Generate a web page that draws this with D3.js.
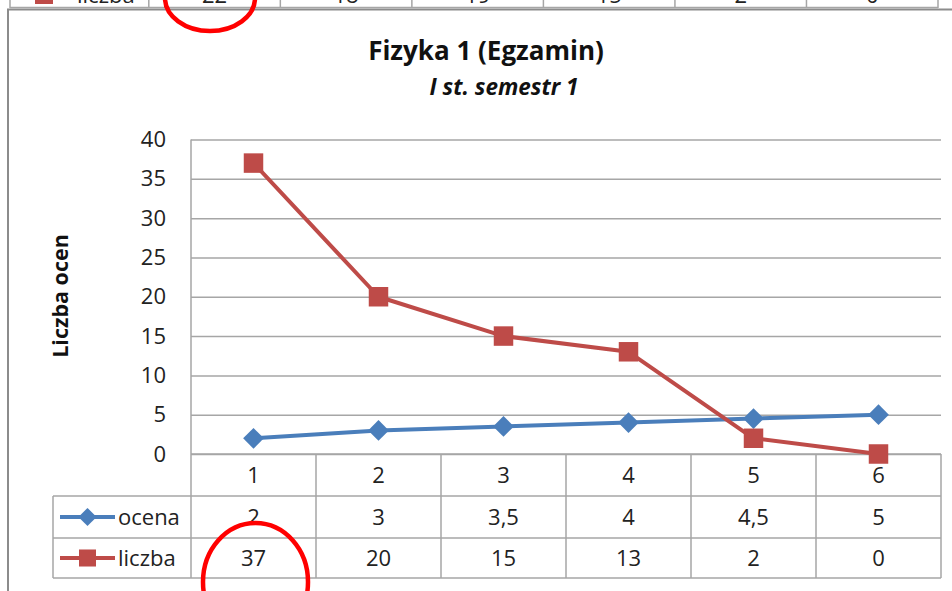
<!DOCTYPE html>
<html>
<head>
<meta charset="utf-8">
<script src="https://cdn.jsdelivr.net/npm/d3@7"></script>
<style>
  body { margin: 0; background: #fff; }
  svg { display: block; font-family: "Open Sans", sans-serif; }
</style>
</head>
<body>
<svg id="chart" width="952" height="591"></svg>
<script>
// data
const categories = [1, 2, 3, 4, 5, 6];
const ocena = [2, 3, 3.5, 4, 4.5, 5];
const liczba = [37, 20, 15, 13, 2, 0];
const yTicks = [0, 5, 10, 15, 20, 25, 30, 35, 40];
// last row of the table above (cut off at top of the screenshot)
const prevLiczba = [22, 18, 19, 15, 2, 0];

const blue = "#4a7ebb";
const red = "#be4b48";
const grid = "#a6a6a6";

const svg = d3.select("#chart");

const plot = { left: 191, right: 941, top: 139.5, bottom: 454 };
const rowH = [454, 496, 538, 578];
const legendLeft = 53;

const x = d3.scaleBand().domain(categories).range([plot.left, plot.right]);
const cx = d => x(d) + x.bandwidth() / 2;
const y = d3.scaleLinear().domain([0, 40]).range([plot.bottom, plot.top]);

// --- bit of the previous table at the very top ---
const xPrev = d3.scaleBand().domain(categories).range([148.8, 938]);
const prevTable = svg.append("g");
prevTable.append("line").attr("x1", 10).attr("x2", 938).attr("y1", 7.5).attr("y2", 7.5)
  .attr("stroke", grid).attr("stroke-width", 1.5);
prevTable.selectAll("line.v").data([10, 148.8].concat(categories.map(c => xPrev(c) + xPrev.bandwidth())))
  .join("line").attr("class", "v")
  .attr("x1", d => d).attr("x2", d => d).attr("y1", 0).attr("y2", 8)
  .attr("stroke", grid).attr("stroke-width", 1.5);
prevTable.append("rect").attr("x", 35).attr("y", -14).attr("width", 18).attr("height", 18).attr("fill", red);
prevTable.append("text").attr("x", 77).attr("y", 3).attr("font-size", 22).attr("fill", "#222").text("liczba");
prevTable.selectAll("text.v").data(prevLiczba).join("text").attr("class", "v")
  .attr("x", (d, i) => xPrev(categories[i]) + xPrev.bandwidth() / 2)
  .attr("y", 3).attr("text-anchor", "middle").attr("font-size", 22).attr("fill", "#222")
  .text(d => d);

// chart frame
svg.append("path").attr("d", "M8,591 V9.5 H952")
  .attr("fill", "none").attr("stroke", "#8c8c8c").attr("stroke-width", 2);

// titles
svg.append("text").attr("x", 486).attr("y", 60).attr("text-anchor", "middle")
  .attr("font-size", 26).attr("font-weight", "bold").attr("fill", "#111")
  .text("Fizyka 1 (Egzamin)");
svg.append("text").attr("x", 504).attr("y", 95).attr("text-anchor", "middle")
  .attr("font-size", 22.5).attr("font-weight", "bold").attr("font-style", "italic").attr("fill", "#111")
  .text("I st. semestr 1");

svg.append("text")
  .attr("transform", "translate(68,296) rotate(-90)")
  .attr("text-anchor", "middle").attr("font-size", 21.5).attr("font-weight", "bold").attr("fill", "#111")
  .text("Liczba ocen");

// y axis + gridlines
const yAxis = svg.append("g")
  .attr("transform", `translate(${plot.left},0)`)
  .call(d3.axisLeft(y).tickValues(yTicks).tickSize(-(plot.right - plot.left)).tickPadding(25));
yAxis.select(".domain").remove();
yAxis.selectAll(".tick line").attr("stroke", grid).attr("stroke-width", 1.5);
yAxis.selectAll(".tick text").attr("font-size", 22).attr("fill", "#222")
  .attr("font-family", "Open Sans, sans-serif");
svg.append("line").attr("x1", plot.left).attr("x2", plot.left)
  .attr("y1", plot.top).attr("y2", rowH[3])
  .attr("stroke", grid).attr("stroke-width", 1.5);

// data table
const table = svg.append("g");
table.selectAll("line.h").data(rowH).join("line").attr("class", "h")
  .attr("x1", (d, i) => i === 0 ? plot.left : legendLeft).attr("x2", plot.right)
  .attr("y1", d => d).attr("y2", d => d)
  .attr("stroke", grid).attr("stroke-width", 1.5);
table.selectAll("line.v").data(categories).join("line").attr("class", "v")
  .attr("x1", d => x(d) + x.bandwidth()).attr("x2", d => x(d) + x.bandwidth())
  .attr("y1", rowH[0]).attr("y2", rowH[3])
  .attr("stroke", grid).attr("stroke-width", 1.5);
table.append("line").attr("x1", legendLeft).attr("x2", legendLeft)
  .attr("y1", rowH[1]).attr("y2", rowH[3])
  .attr("stroke", grid).attr("stroke-width", 1.5);

const rows = [
  { values: categories, yMid: (rowH[0] + rowH[1]) / 2 },
  { values: ocena.map(v => String(v).replace(".", ",")), yMid: (rowH[1] + rowH[2]) / 2 },
  { values: liczba, yMid: (rowH[2] + rowH[3]) / 2 }
];
rows.forEach(r => {
  table.selectAll(null).data(r.values).join("text")
    .attr("x", (d, i) => cx(categories[i]))
    .attr("y", r.yMid).attr("dy", "0.35em")
    .attr("text-anchor", "middle").attr("font-size", 22).attr("fill", "#222")
    .text(d => d);
});

// legend keys in the table
const marker = d3.symbol().type(d3.symbolSquare);
const keys = [
  { name: "ocena", color: blue, shape: "diamond", yMid: rows[1].yMid },
  { name: "liczba", color: red, shape: "square", yMid: rows[2].yMid }
];
keys.forEach(k => {
  const g = table.append("g");
  g.append("line").attr("x1", 60).attr("x2", 115).attr("y1", k.yMid).attr("y2", k.yMid)
    .attr("stroke", k.color).attr("stroke-width", 4);
  g.append("path")
    .attr("d", marker.size(k.shape === "diamond" ? 165 : 290)())
    .attr("transform", `translate(87.5,${k.yMid}) rotate(${k.shape === "diamond" ? 45 : 0})`)
    .attr("fill", k.color);
  g.append("text").attr("x", 118).attr("y", k.yMid).attr("dy", "0.35em")
    .attr("font-size", 22).attr("fill", "#222").text(k.name);
});

// series
const line = d3.line().x((d, i) => cx(categories[i])).y(d => y(d));
const series = [
  { values: ocena, color: blue, shape: "diamond" },
  { values: liczba, color: red, shape: "square" }
];
series.forEach(s => {
  svg.append("path").datum(s.values).attr("d", line)
    .attr("fill", "none").attr("stroke", s.color).attr("stroke-width", 4)
    .attr("stroke-linejoin", "round");
});
series.forEach(s => {
  svg.selectAll(null).data(s.values).join("path")
    .attr("d", marker.size(s.shape === "diamond" ? 215 : 380)())
    .attr("transform", (d, i) => `translate(${cx(categories[i])},${y(d)}) rotate(${s.shape === "diamond" ? 45 : 0})`)
    .attr("fill", s.color);
});

// red hand-drawn circles
svg.append("ellipse").attr("cx", 210).attr("cy", -2).attr("rx", 45).attr("ry", 33)
  .attr("fill", "none").attr("stroke", "#ff0000").attr("stroke-width", 4.5);
svg.append("ellipse").attr("cx", 255.5).attr("cy", 582).attr("rx", 52.5).attr("ry", 59)
  .attr("fill", "none").attr("stroke", "#ff0000").attr("stroke-width", 4.5);
</script>
</body>
</html>
